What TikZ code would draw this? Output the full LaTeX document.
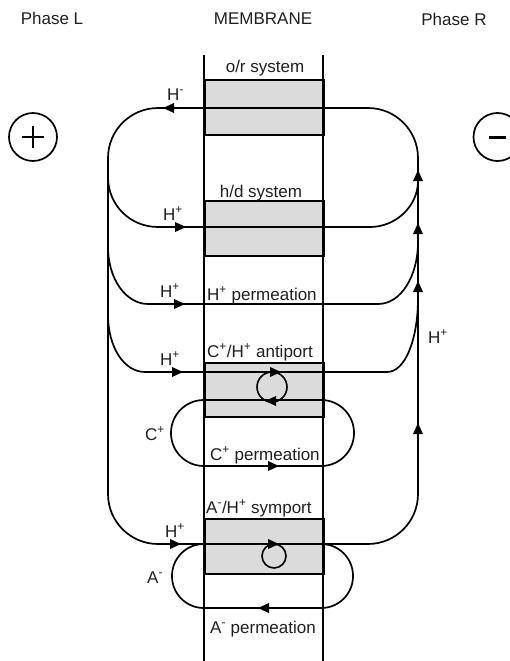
\documentclass[tikz,border=0pt]{standalone}
\usepackage{fontspec}
\setmainfont{Liberation Sans}
\definecolor{boxgray}{gray}{0.86}
\definecolor{inkgray}{gray}{0.12}
\newcommand\sps[1]{\textsuperscript{#1}}
\begin{document}
\begin{tikzpicture}[x=1pt,y=-1pt,
  flow/.style={line width=1.7pt},
  memline/.style={line width=1.5pt},
  sysbox/.style={draw, line width=1.9pt, fill=boxgray, inner sep=0pt,
    minimum width=119pt, anchor=north west},
  lbl/.style={inner sep=0pt, text=inkgray, font=\fontsize{17}{20}\selectfont},
  pole/.style={draw, circle, line width=1.7pt, minimum size=48pt, inner sep=0pt},
  turn/.style={draw, circle, line width=1.6pt, inner sep=0pt},
  arrR/.pic={\fill (0,0) -- (-11,-5) -- (-11,5) -- cycle;},
  arrL/.pic={\fill (0,0) -- (11,-5) -- (11,5) -- cycle;},
  arrU/.pic={\fill (0,0) -- (-5,11) -- (5,11) -- cycle;},
]
\useasboundingbox (0,0) rectangle (509,661);

% transport systems inside the membrane
\node[sysbox, minimum height=55pt] (orbox)  at (204,79)  {};
\node[sysbox, minimum height=55pt] (hdbox)  at (204,200) {};
\node[sysbox, minimum height=54pt] (antbox) at (204,362) {};
\node[sysbox, minimum height=55pt] (symbox) at (204,518) {};

% membrane boundaries
\coordinate (mLt) at (204,55);  \coordinate (mLb) at (204,661);
\coordinate (mRt) at (323,55);  \coordinate (mRb) at (323,661);
\draw[memline] (mLt) -- (mLb);
\draw[memline] (mRt) -- (mRb);

% electrodes
\node[pole] (plus)  at (33,137) {};
\draw[line width=2.6pt] ([xshift=-11pt]plus.center) -- ([xshift=11pt]plus.center);
\draw[line width=2.6pt] ([yshift=-11pt]plus.center) -- ([yshift=11pt]plus.center);
\node[pole] (minus) at (497.5,137) {};
\draw[line width=3pt] ([xshift=-9pt]minus.center) -- ([xshift=8pt]minus.center);

% outer circuit: o/r line on top, symport line at the bottom
\coordinate (loopNW) at (108,108);
\coordinate (loopSE) at (418,544);
\draw[flow, rounded corners=50pt] (loopNW) rectangle (loopSE);

% branch coordinates
\coordinate (hdL0) at (108,177);  \coordinate (hdL1) at (158,227);
\coordinate (hdR1) at (370,227);  \coordinate (hdR0) at (418,181);
\coordinate (hpL0) at (108,247);  \coordinate (hpL1) at (148,304);
\coordinate (hpR1) at (378,304);  \coordinate (hpR0) at (418,242);
\coordinate (anL0) at (108,315);  \coordinate (anL1) at (145,372);
\coordinate (anR1) at (387,372);  \coordinate (anR0) at (418,298);

% h/d system
\draw[flow] (hdL0) .. controls (108,205) and (130,227) .. (hdL1) -- (hdR1)
  .. controls (396,227) and (418,206) .. (hdR0);
% H+ permeation
\draw[flow] (hpL0) .. controls (108,279) and (126,304) .. (hpL1) -- (hpR1)
  .. controls (401,304) and (418,276) .. (hpR0);
% C+/H+ antiport
\draw[flow] (anL0) .. controls (108,347) and (124,372) .. (anL1) -- (anR1)
  .. controls (405,372) and (418,340) .. (anR0);

% cation and anion loops
\coordinate (cNW) at (171,400); \coordinate (cSE) at (354,466);
\draw[flow, rounded corners=32.8pt] (cNW) rectangle (cSE);
\coordinate (aNW) at (172,544); \coordinate (aSE) at (353,608);
\draw[flow, rounded corners=31.8pt] (aNW) rectangle (aSE);

% coupling symbols
\node[turn, minimum size=30pt] (antturn) at (272,387) {};
\node[turn, minimum size=24pt] (symturn) at (274,556) {};

% arrowheads
\pic at (163,108) {arrL};
\pic at (186,227) {arrR};
\pic at (185,304) {arrR};
\pic at (183,372) {arrR};
\pic at (181,544) {arrR};
\pic at (418,170) {arrU};
\pic at (418,223) {arrU};
\pic at (418,281) {arrU};
\pic at (418,423) {arrU};
\pic at (279,466) {arrR};
\pic at (258,608) {arrL};
\pic at (281,372) {arrR};
\pic at (265,401) {arrL};
\pic at (279,544) {arrR};

% headings
\node[lbl, anchor=base] (phL)  at (52,25)  {Phase L};
\node[lbl, anchor=base] (memb) at (263,25) {MEMBRANE};
\node[lbl, anchor=base] (phR)  at (454,26) {Phase R};

% system names
\node[lbl, anchor=base] (orT) at (265,72)  {o/r system};
\node[lbl, anchor=base] (hdT) at (261,197) {h/d system};
\node[lbl, anchor=base west] (hpT) at (207,300) {H\sps{+} permeation};
\node[lbl, anchor=base west] (anT) at (207,357) {C\sps{+}/H\sps{+} antiport};
\node[lbl, anchor=base west] (cpT) at (210,460) {C\sps{+} permeation};
\node[lbl, anchor=base west] (syT) at (206,513) {A\sps{-}/H\sps{+} symport};
\node[lbl, anchor=base west] (apT) at (210,633) {A\sps{-} permeation};

% ion labels
\node[lbl, anchor=base west] (ionOR) at (167,100) {H\sps{-}};
\node[lbl, anchor=base west] (ionHD) at (163,220) {H\sps{+}};
\node[lbl, anchor=base west] (ionHP) at (160,297) {H\sps{+}};
\node[lbl, anchor=base west] (ionAN) at (160,365) {H\sps{+}};
\node[lbl, anchor=base west] (ionSY) at (165,537) {H\sps{+}};
\node[lbl, anchor=base west] (ionC)  at (145,440) {C\sps{+}};
\node[lbl, anchor=base west] (ionA)  at (147,583) {A\sps{-}};
\node[lbl, anchor=base west] (ionR)  at (428,343) {H\sps{+}};
\end{tikzpicture}
\end{document}
